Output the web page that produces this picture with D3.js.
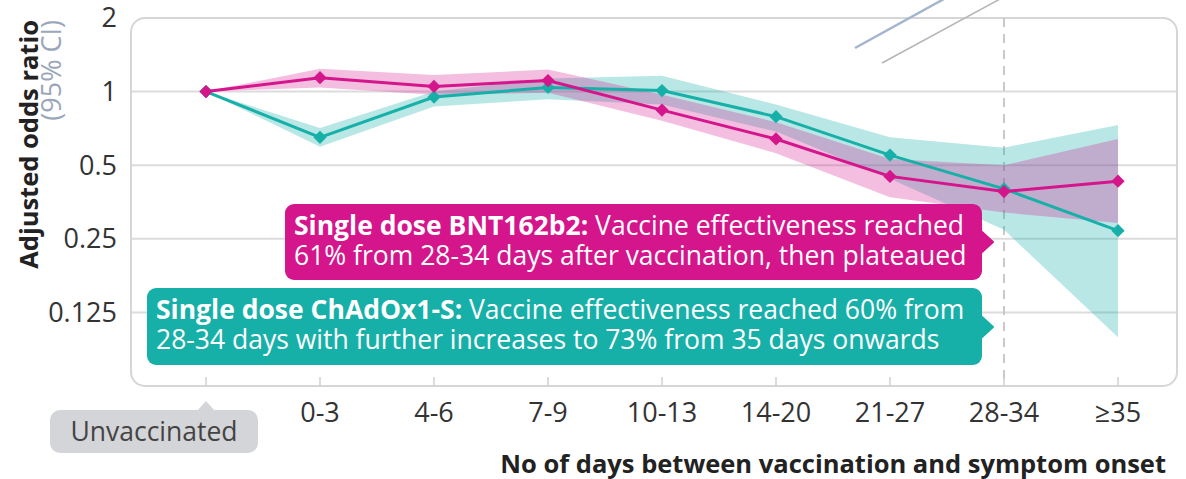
<!DOCTYPE html>
<html>
<head>
<meta charset="utf-8">
<script src="https://cdn.jsdelivr.net/npm/d3@7/dist/d3.min.js"></script>
<style>
  body { margin: 0; background: #fff; }
  svg { display: block; font-family: 'Open Sans', sans-serif; }
  .tick-label { fill: #333; font-size: 27px; }
</style>
</head>
<body>
<svg id="chart" width="1186" height="479"></svg>
<script>
// categories along the x axis
const categories = ['Unvaccinated', '0-3', '4-6', '7-9', '10-13', '14-20', '21-27', '28-34', '≥35'];
const yTicks = [0.125, 0.25, 0.5, 1, 2];

// single dose BNT162b2 (pink)
const bntOR   = [1, 1.14, 1.05, 1.11, 0.84, 0.64, 0.45, 0.39, 0.43];
const bntLow  = [1, 1.04, 0.97, 0.99, 0.76, 0.56, 0.37, 0.32, 0.29];
const bntHigh = [1, 1.24, 1.17, 1.23, 0.97, 0.75, 0.53, 0.50, 0.64];

// single dose ChAdOx1-S (teal)
const chadOR   = [1, 0.65, 0.95, 1.04, 1.01, 0.79, 0.55, 0.40, 0.27];
const chadLow  = [1, 0.595, 0.87, 0.93, 0.885, 0.686, 0.44, 0.272, 0.099];
const chadHigh = [1, 0.71, 1.0, 1.13, 1.16, 0.885, 0.65, 0.59, 0.73];

const PINK = '#d5158b';
const TEAL = '#17b0a8';

const margin = { top: 18, right: 9, bottom: 93, left: 131 };
const width = 1186 - margin.left - margin.right;
const height = 479 - margin.top - margin.bottom;

const svg = d3.select('#chart');
const g = svg.append('g')
  .attr('transform', `translate(${margin.left},${margin.top})`);

const xScale = d3.scalePoint()
  .domain(categories)
  .range([75, 987]);

const yScale = d3.scaleLog()
  .base(2)
  .domain([0.0625, 2])
  .range([height, 0]);

// decorative strokes at the top (cropped from the source figure)
svg.append('line')
  .attr('x1', 855).attr('y1', 48).attr('x2', 944).attr('y2', -1)
  .attr('stroke', '#a3b5cf').attr('stroke-width', 2.5);
svg.append('line')
  .attr('x1', 882).attr('y1', 63).attr('x2', 1000).attr('y2', -1)
  .attr('stroke', '#b5b5b5').attr('stroke-width', 1.5);

// gridlines
g.append('g')
  .selectAll('line')
  .data(yTicks.slice(0, -1))
  .enter().append('line')
  .attr('x1', 0).attr('x2', width)
  .attr('y1', d => yScale(d)).attr('y2', d => yScale(d))
  .attr('stroke', '#dcdcdc').attr('stroke-width', 2);

// frame
g.append('rect')
  .attr('x', 0).attr('y', 0)
  .attr('width', width).attr('height', height)
  .attr('rx', 14)
  .attr('fill', 'none')
  .attr('stroke', '#d6d6d6').attr('stroke-width', 2);

// 28-34 reference line
g.append('line')
  .attr('x1', xScale('28-34')).attr('x2', xScale('28-34'))
  .attr('y1', 0).attr('y2', height)
  .attr('stroke', '#c9c9c9').attr('stroke-width', 2)
  .attr('stroke-dasharray', '9,7');

// x ticks inside the frame
g.append('g')
  .selectAll('line')
  .data(categories)
  .enter().append('line')
  .attr('x1', d => xScale(d)).attr('x2', d => xScale(d))
  .attr('y1', height - 9).attr('y2', height)
  .attr('stroke', '#cfcfcf').attr('stroke-width', 1.5);

// y tick labels
g.append('g')
  .selectAll('text')
  .data(yTicks)
  .enter().append('text')
  .attr('class', 'tick-label')
  .attr('x', -14)
  .attr('y', d => yScale(d))
  .attr('dy', '0.35em')
  .attr('text-anchor', 'end')
  .text(d => d);

// x tick labels
g.append('g')
  .selectAll('text')
  .data(categories.slice(1))
  .enter().append('text')
  .attr('class', 'tick-label')
  .attr('x', d => xScale(d))
  .attr('y', height + 36)
  .attr('text-anchor', 'middle')
  .text(d => d);

// unvaccinated label
const ux = xScale('Unvaccinated');
const unv = g.append('g');
unv.append('rect')
  .attr('x', ux - 156).attr('y', height + 24)
  .attr('width', 208).attr('height', 43)
  .attr('rx', 10)
  .attr('fill', '#d4d5d8');
unv.append('path')
  .attr('d', `M${ux - 9},${height + 25} L${ux},${height + 15} L${ux + 9},${height + 25} Z`)
  .attr('fill', '#d4d5d8');
unv.append('text')
  .attr('x', ux - 52)
  .attr('y', height + 55)
  .attr('text-anchor', 'middle')
  .style('font-size', '26.5px')
  .style('fill', '#444')
  .text('Unvaccinated');

// axis titles
svg.append('text')
  .attr('x', 1166).attr('y', 473)
  .attr('text-anchor', 'end')
  .style('font-size', '25.5px').style('font-weight', 700).style('fill', '#222')
  .text('No of days between vaccination and symptom onset');

svg.append('text')
  .attr('transform', 'translate(38,20) rotate(-90)')
  .attr('text-anchor', 'end')
  .style('font-size', '25.5px').style('font-weight', 700).style('fill', '#222')
  .text('Adjusted odds ratio');
svg.append('text')
  .attr('transform', 'translate(61,20) rotate(-90)')
  .attr('text-anchor', 'end')
  .style('font-size', '27px').style('fill', '#9aa6ba')
  .text('(95% CI)');

// bands and lines
const rows = (or, lo, hi) => categories.map((c, i) => ({ c, or: or[i], lo: lo[i], hi: hi[i] }));
const series = [
  { name: 'chad', color: TEAL, data: rows(chadOR, chadLow, chadHigh), op: 0.3 },
  { name: 'bnt', color: PINK, data: rows(bntOR, bntLow, bntHigh), op: 0.28 },
];

const area = d3.area()
  .x(d => xScale(d.c))
  .y0(d => yScale(d.lo))
  .y1(d => yScale(d.hi));
const line = d3.line()
  .x(d => xScale(d.c))
  .y(d => yScale(d.or));

series.forEach(s => {
  g.append('path')
    .datum(s.data)
    .attr('d', area)
    .attr('fill', s.color)
    .attr('fill-opacity', s.op);
});

series.forEach(s => {
  g.append('path')
    .datum(s.data)
    .attr('d', line)
    .attr('fill', 'none')
    .attr('stroke', s.color)
    .attr('stroke-width', 3);
  g.append('g')
    .selectAll('path')
    .data(s.data)
    .enter().append('path')
    .attr('d', d3.symbol(d3.symbolSquare, 88))
    .attr('transform', d => `translate(${xScale(d.c)},${yScale(d.or)}) rotate(45)`)
    .attr('fill', s.color);
});

// annotation boxes
function drawCallout(x0, y0, x1, y1, tipY, color, bold, line1, line2) {
  const box = svg.append('g');
  box.append('rect')
    .attr('x', x0).attr('y', y0)
    .attr('width', x1 - x0).attr('height', y1 - y0)
    .attr('rx', 9)
    .attr('fill', color);
  box.append('path')
    .attr('d', `M${x1 - 1},${tipY - 11} L${x1 + 11},${tipY} L${x1 - 1},${tipY + 11} Z`)
    .attr('fill', color)
    .attr('stroke', color).attr('stroke-width', 2).attr('stroke-linejoin', 'round');
  const t1 = box.append('text')
    .attr('x', x0 + 9).attr('y', y0 + 31)
    .style('font-size', '26.5px').style('fill', '#fff');
  t1.append('tspan').style('font-weight', 700).text(bold);
  t1.append('tspan').text(line1);
  box.append('text')
    .attr('x', x0 + 9).attr('y', y0 + 61)
    .style('font-size', '26.5px').style('fill', '#fff')
    .text(line2);
}

drawCallout(285, 204, 982, 280, 242, PINK,
  'Single dose BNT162b2:', ' Vaccine effectiveness reached',
  '61% from 28-34 days after vaccination, then plateaued');
drawCallout(147, 288, 982, 365, 327, TEAL,
  'Single dose ChAdOx1-S:', ' Vaccine effectiveness reached 60% from',
  '28-34 days with further increases to 73% from 35 days onwards');
</script>
</body>
</html>
